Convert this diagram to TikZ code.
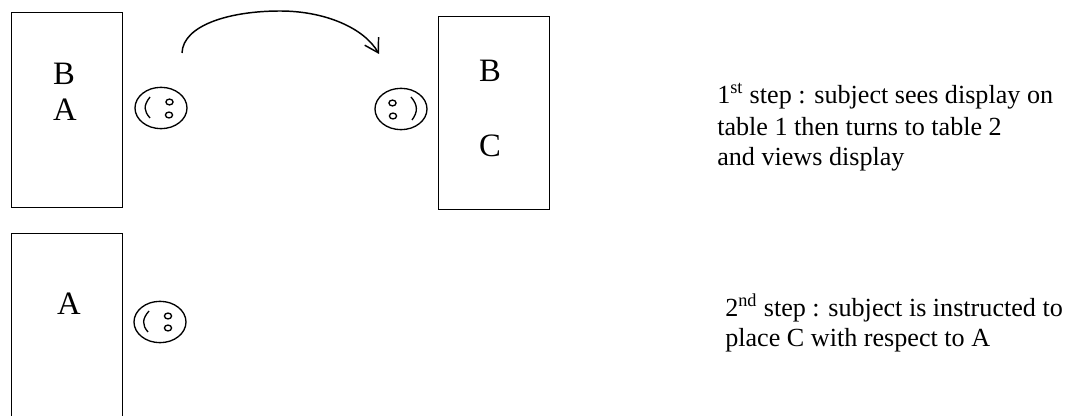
\documentclass[tikz,border=0pt]{standalone}
\usepackage{fontspec}
\setmainfont{Liberation Serif}
\usetikzlibrary{shapes.geometric,arrows.meta}
\tikzset{
  tablebox/.style={draw, rectangle, inner sep=0pt, minimum width=83.25pt, line width=.7pt},
  headface/.style={draw, ellipse, inner sep=0pt, minimum width=39pt, minimum height=31pt, line width=1pt},
  headeye/.style={draw, ellipse, inner sep=0pt, minimum width=5.4pt, minimum height=4.4pt, line width=1pt},
  letter/.style={inner sep=0pt, anchor=base, font=\fontsize{24.5}{24.5}\selectfont},
  steptext/.style={inner sep=0pt, anchor=base west, font=\fontsize{19.6}{22}\selectfont}
}
\begin{document}
\begin{tikzpicture}[x=.75pt,y=-.75pt]
\useasboundingbox (0,0) rectangle (1071,416);
\node[tablebox, minimum height=146.25pt] (table0) at (66.5,109.5){};
\node[tablebox, minimum height=144.75pt] (table1) at (494,112.5){};
\draw[line width=.7pt] (11,416) -- (11,233) -- (122,233) -- (122,416);
\node[letter] (labB0) at (64,85){B};
\node[letter] (labA0) at (65,121){A};
\node[letter] (labB1) at (490,82){B};
\node[letter] (labC1) at (490,157){C};
\node[letter] (labA2) at (69,315){A};
\node[headface] (face0) at (161,108){};
\node[headface] (face1) at (401,109){};
\node[headface] (face2) at (160,322){};
\node[headeye] (eye00) at (169.5,102){};
\node[headeye] (eye01) at (169,115){};
\node[headeye] (eye10) at (392.5,103){};
\node[headeye] (eye11) at (393,116){};
\node[headeye] (eye20) at (168,316){};
\node[headeye] (eye21) at (168,328){};
\draw[line width=1pt] (150,97) .. controls (143,106) and (144,111) .. (150,118);
\draw[line width=1pt] (411,97) .. controls (418,105) and (418,112) .. (412,120);
\draw[line width=1pt] (149,311) .. controls (142,319) and (142,325) .. (148,332);
\coordinate (arrowstart) at (182,53);
\coordinate (arrowend) at (379,54);
\draw[line width=1.1pt, -{Straight Barb[length=10pt,width=12pt]}] (arrowstart) .. controls (183,25) and (230,11) .. (280,11) .. controls (325,11) and (364,28) .. (arrowend);
\node[steptext] (step0a) at (717,104){1\textsuperscript{st} step : subject sees display on};
\node[steptext] (step0b) at (717,136){table 1 then turns to table 2};
\node[steptext] (step0c) at (717,166){and views display};
\node[steptext] (step1a) at (725,317){2\textsuperscript{nd} step : subject is instructed to};
\node[steptext] (step1b) at (725,347){place C with respect to A};
\end{tikzpicture}
\end{document}
